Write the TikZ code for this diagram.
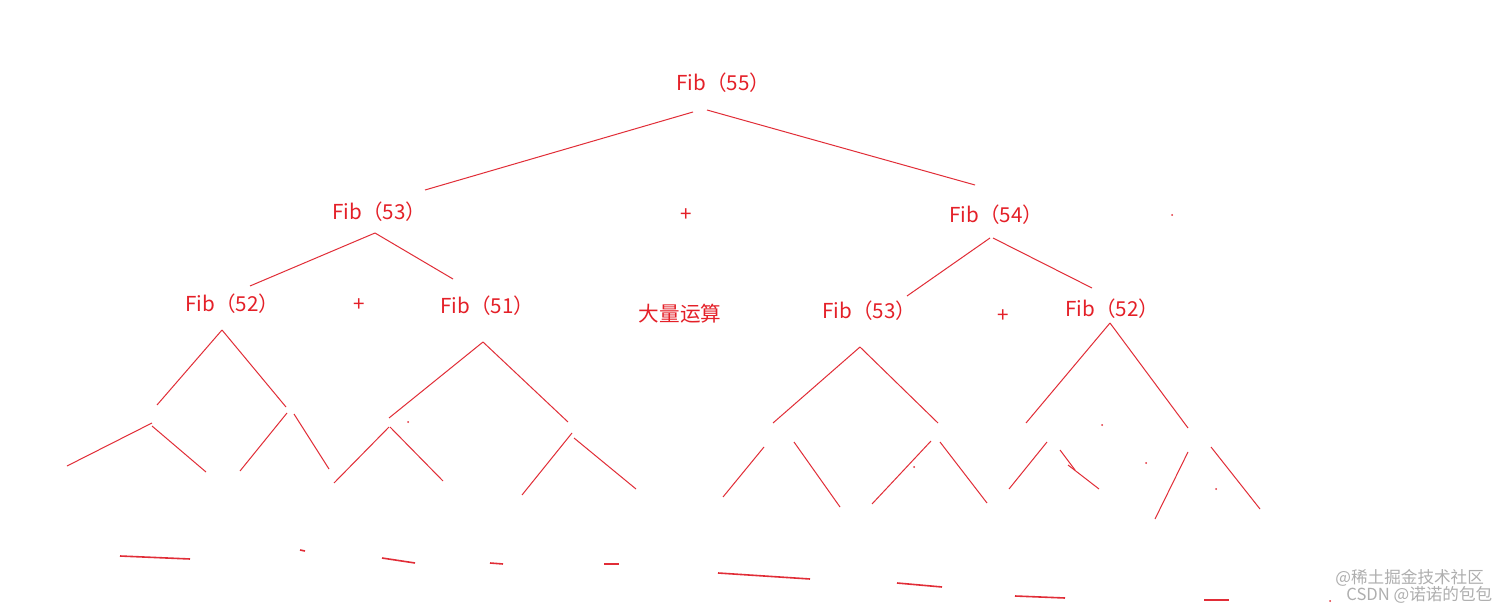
\documentclass[tikz,border=0pt]{standalone}
\usepackage{fontspec}
\setmainfont{Noto Sans CJK SC}
\newfontfamily\wmfont{Noto Sans CJK SC}
\definecolor{txtred}{RGB}{228,32,40}
\definecolor{linered}{RGB}{225,45,55}
\definecolor{wmgray}{RGB}{160,160,160}
\tikzset{
  lbl/.style={text=txtred, inner sep=0pt, font=\fontsize{10.3}{12}\selectfont},
  strokeline/.style={draw=linered, line width=0.5pt},
  wm/.style={text=wmgray, inner sep=0pt, font=\wmfont\fontsize{8.3}{10}\selectfont, opacity=0.85}
}
\begin{document}
\begin{tikzpicture}[x=0.5pt,y=-0.5pt]
\useasboundingbox (0,0) rectangle (1512,610);
\fill[white] (0,0) rectangle (1512,610);

% labels
\node[lbl, anchor=base west] (f55) at (676,91) {Fib（55）};
\node[lbl, anchor=base west] (f53a) at (332,220) {Fib（53）};
\node[lbl, anchor=base west] (f54) at (949,222) {Fib（54）};
\node[lbl, anchor=base west] (f52a) at (185,312) {Fib（52）};
\node[lbl, anchor=base west] (f51) at (440,314) {Fib（51）};
\node[lbl, anchor=base west] (f53b) at (822,319) {Fib（53）};
\node[lbl, anchor=base west] (f52b) at (1065,316) {Fib（52）};
\node[lbl] (p1) at (686,215) {+};
\node[lbl] (p2) at (359,305) {+};
\node[lbl] (p3) at (1003,316) {+};
\node[lbl] (dl) at (680,314) {大量运算};

% level 1
\draw[strokeline] (693,112) -- (425,190);
\draw[strokeline] (707,110) -- (975,185);
% level 2
\draw[strokeline] (375,233) -- (250,286);
\draw[strokeline] (375,233) -- (453,279);
\draw[strokeline] (990,238) -- (907,296);
\draw[strokeline] (993,238) -- (1092,288);
% level 3
\draw[strokeline] (222,330) -- (157,405);
\draw[strokeline] (222,330) -- (286,407);
\draw[strokeline] (483,342) -- (389,418);
\draw[strokeline] (483,342) -- (568,422);
\draw[strokeline] (860,347) -- (773,423);
\draw[strokeline] (860,347) -- (938,423);
\draw[strokeline] (1110,323) -- (1026,423);
\draw[strokeline] (1110,323) -- (1188,428);
% level 4
\draw[strokeline] (152,423) -- (67,466);
\draw[strokeline] (152,426) -- (206,472);
\draw[strokeline] (287,413) -- (240,471);
\draw[strokeline] (294,414) -- (329,469);
\draw[strokeline] (389,427) -- (334,483);
\draw[strokeline] (390,427) -- (443,481);
\draw[strokeline] (572,433) -- (522,495);
\draw[strokeline] (574,438) -- (636,489);
\draw[strokeline] (764,447) -- (723,497);
\draw[strokeline] (794,442) -- (840,507);
\draw[strokeline] (931,441) -- (872,504);
\draw[strokeline] (940,442) -- (987,503);
\draw[strokeline] (1047,442) -- (1009,489);
\draw[strokeline] (1060,450) -- (1075,470);
\draw[strokeline] (1068,465) -- (1099,489);
\draw[strokeline] (1188,452) -- (1155,519);
\draw[strokeline] (1211,447) -- (1260,509);
% specks
\fill[linered] (408,422) circle (1);
\fill[linered] (914,467) circle (1);
\fill[linered] (1102,425) circle (1);
\fill[linered] (1146,463) circle (1);
\fill[linered] (1216,489) circle (1);
\fill[linered] (1172,215) circle (1);
\fill[linered] (1330,601) circle (1);
% bottom strokes
\draw[strokeline, line width=0.8pt] (120,556) -- (190,559);
\draw[strokeline, line width=0.8pt] (300,550) -- (305,551);
\draw[strokeline, line width=0.8pt] (382,558) -- (415,563);
\draw[strokeline, line width=0.8pt] (490,563) -- (503,564);
\draw[strokeline, line width=0.8pt] (604,564) -- (619,564);
\draw[strokeline, line width=0.8pt] (718,573) -- (810,579);
\draw[strokeline, line width=0.8pt] (897,583) -- (942,587);
\draw[strokeline, line width=0.8pt] (1015,596) -- (1065,598);
\draw[strokeline, line width=0.8pt] (1204,600) -- (1229,600);

% watermark
\node[wm, anchor=west] (wm1) at (1335,578) {@稀土掘金技术社区};
\node[wm, anchor=west] (wm2) at (1346,595) {CSDN @诺诺的包包};
\end{tikzpicture}
\end{document}
